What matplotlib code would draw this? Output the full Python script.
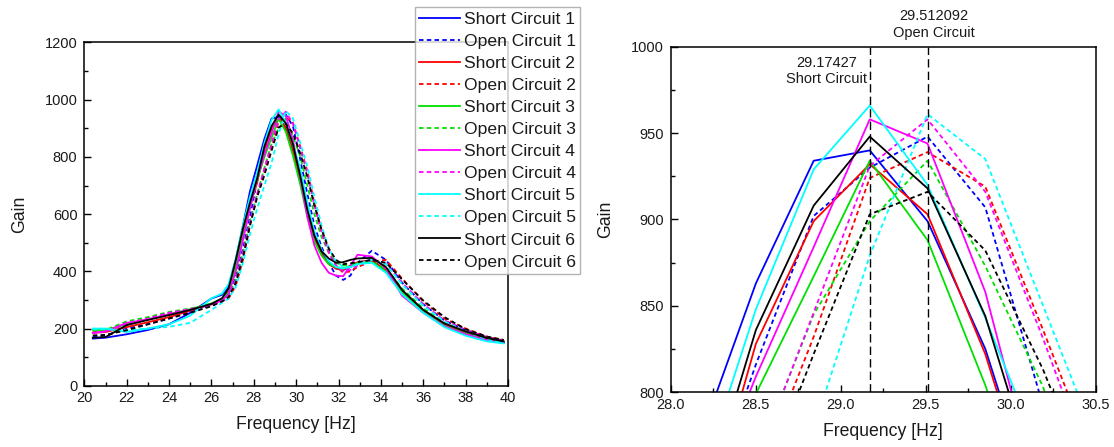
import numpy as np
from matplotlib import pyplot as plt
from matplotlib.ticker import MultipleLocator

plt.rcParams['font.family'] = ['Liberation Sans', 'DejaVu Sans']

# frequency points [Hz], shared by all runs
freq = [20.4, 21.0, 22.0, 23.0, 24.0, 25.0, 26.0, 26.5, 26.81, 27.15, 27.49, 27.82,
        28.16, 28.50, 28.84, 29.17, 29.51, 29.85, 30.19, 30.53, 30.86, 31.20, 31.54,
        31.88, 32.22, 32.56, 32.90, 33.57, 34.24, 35.0, 36.0, 37.0, 38.0, 39.0, 39.8]

short_1 = [165, 168, 180, 195, 215, 255, 305, 318, 345, 440, 560, 680, 770, 863, 934, 940, 899, 825,
           720, 610, 525, 465, 430, 410, 405, 415, 430, 440, 400, 330, 265, 215, 185, 162, 152]
open_1 = [172, 175, 200, 215, 235, 260, 280, 300, 320, 380, 480, 590, 720, 816, 902, 930, 948, 907,
          792, 670, 560, 485, 430, 385, 370, 385, 430, 472, 440, 360, 285, 228, 195, 170, 158]
short_2 = [185, 188, 205, 222, 240, 262, 285, 300, 330, 420, 530, 630, 710, 828, 899, 932, 903, 822,
           715, 600, 515, 460, 425, 410, 405, 420, 432, 438, 405, 330, 262, 213, 185, 162, 150]
open_2 = [188, 190, 215, 235, 255, 268, 282, 295, 305, 350, 440, 560, 665, 747, 832, 924, 939, 919,
          836, 750, 640, 545, 470, 420, 395, 400, 415, 435, 440, 375, 295, 235, 200, 172, 160]
short_3 = [195, 195, 215, 232, 250, 268, 288, 303, 325, 415, 520, 625, 720, 799, 867, 934, 888, 804,
           705, 590, 505, 455, 425, 415, 410, 420, 428, 432, 400, 325, 258, 210, 182, 160, 150]
open_3 = [192, 195, 225, 240, 258, 270, 285, 298, 315, 370, 465, 575, 670, 760, 845, 899, 934, 873,
          803, 700, 600, 520, 465, 430, 420, 425, 430, 432, 410, 340, 270, 220, 190, 166, 155]
short_4 = [185, 190, 220, 232, 250, 265, 285, 298, 320, 400, 510, 620, 725, 809, 884, 958, 944, 858,
           730, 590, 490, 430, 395, 385, 383, 420, 458, 452, 410, 315, 255, 208, 180, 160, 150]
open_4 = [185, 188, 218, 235, 255, 268, 282, 295, 310, 365, 460, 570, 670, 759, 846, 931, 958, 916,
          831, 740, 630, 535, 465, 420, 400, 405, 420, 440, 425, 360, 285, 228, 195, 170, 157]
short_5 = [200, 200, 188, 200, 215, 245, 306, 322, 355, 445, 560, 660, 745, 848, 929, 966, 920, 843,
           760, 640, 540, 475, 435, 415, 410, 415, 425, 430, 395, 320, 255, 205, 175, 155, 148]
open_5 = [197, 198, 194, 200, 206, 220, 265, 290, 305, 345, 430, 530, 620, 700, 779, 879, 961, 935,
          850, 765, 660, 560, 480, 435, 415, 415, 425, 440, 425, 355, 280, 225, 190, 163, 150]
short_6 = [168, 170, 212, 230, 247, 265, 286, 306, 340, 440, 550, 640, 725, 836, 908, 948, 918, 844,
           735, 615, 525, 470, 445, 430, 432, 440, 445, 447, 415, 335, 265, 218, 190, 167, 155]
open_6 = [176, 178, 194, 215, 235, 255, 278, 295, 310, 360, 450, 560, 660, 736, 822, 903, 916, 882,
          813, 730, 630, 545, 480, 440, 425, 428, 432, 440, 430, 372, 298, 240, 198, 172, 160]

series = [short_1, open_1, short_2, open_2, short_3, open_3,
          short_4, open_4, short_5, open_5, short_6, open_6]
labels = ['Short Circuit 1', 'Open Circuit 1', 'Short Circuit 2', 'Open Circuit 2',
          'Short Circuit 3', 'Open Circuit 3', 'Short Circuit 4', 'Open Circuit 4',
          'Short Circuit 5', 'Open Circuit 5', 'Short Circuit 6', 'Open Circuit 6']
colors = ['#0000ff', '#0000ff', '#ff0000', '#ff0000', '#00e000', '#00e000',
          '#ff00ff', '#ff00ff', '#00ffff', '#00ffff', '#000000', '#000000']

f_short = 29.17427
f_open = 29.512092

txt = '#1a1a1a'
dash = (0, (2.5, 1.8))

fig = plt.figure(figsize=(11.14, 4.47), dpi=100)
ax1 = fig.add_axes([0.0757, 0.137, 0.3803, 0.768])
ax2 = fig.add_axes([0.6023, 0.123, 0.3813, 0.7722])

for i in range(len(series)):
    ls = '-' if i % 2 == 0 else dash
    ax1.plot(freq, series[i], color=colors[i], lw=1.3, linestyle=ls, label=labels[i])
    ax2.plot(freq, series[i], color=colors[i], lw=1.3, linestyle=ls)

ax1.set_xlim(20, 40)
ax1.set_ylim(0, 1200)
ax1.xaxis.set_major_locator(MultipleLocator(2))
ax1.xaxis.set_minor_locator(MultipleLocator(1))
ax1.yaxis.set_major_locator(MultipleLocator(200))
ax1.yaxis.set_minor_locator(MultipleLocator(100))

ax2.set_xlim(28, 30.5)
ax2.set_ylim(800, 1000)
ax2.xaxis.set_major_locator(MultipleLocator(0.5))
ax2.xaxis.set_minor_locator(MultipleLocator(0.25))
ax2.yaxis.set_major_locator(MultipleLocator(50))
ax2.yaxis.set_minor_locator(MultipleLocator(25))
ax2.xaxis.set_major_formatter(plt.FormatStrFormatter('%.1f'))

ax2.axvline(f_short, color='black', lw=1.0, linestyle=(0, (6, 3)))
ax2.axvline(f_open, color='black', lw=1.0, linestyle=(0, (6, 3)))
ax2.text(28.916, 986, str(f_short) + '\nShort Circuit', ha='center', va='center',
         fontsize=10.5, color=txt, linespacing=1.25)
ax2.text(29.547, 1013, str(f_open) + '\nOpen Circuit', ha='center', va='center',
         fontsize=10.5, color=txt, linespacing=1.25, clip_on=False)

for ax in [ax1, ax2]:
    ax.tick_params(which='both', direction='in', top=False, right=False,
                   labelsize=10.5, labelcolor=txt)
    ax.tick_params(which='major', length=5, width=1.0)
    ax.tick_params(which='minor', length=3, width=1.0)
    ax.tick_params(axis='x', pad=4)
    ax.tick_params(axis='y', pad=5)
    for s in ax.spines.values():
        s.set_linewidth(1.1)
    ax.set_xlabel('Frequency [Hz]', fontsize=12.7, color=txt, labelpad=8)
    ax.set_ylabel('Gain', fontsize=12.7, color=txt, labelpad=12)

leg = ax1.legend(loc='upper left', bbox_to_anchor=(0.3725, 0.984), bbox_transform=fig.transFigure,
                 fontsize=12.6, frameon=True, fancybox=False, borderaxespad=0, borderpad=0.25,
                 labelspacing=0.39, handlelength=2.3, handletextpad=0.25)
leg.get_frame().set_edgecolor('#a0a0a0')
leg.get_frame().set_linewidth(1.0)
leg.set_zorder(10)
for t in leg.get_texts():
    t.set_color(txt)

plt.savefig('out.png', dpi=100)
plt.close()
